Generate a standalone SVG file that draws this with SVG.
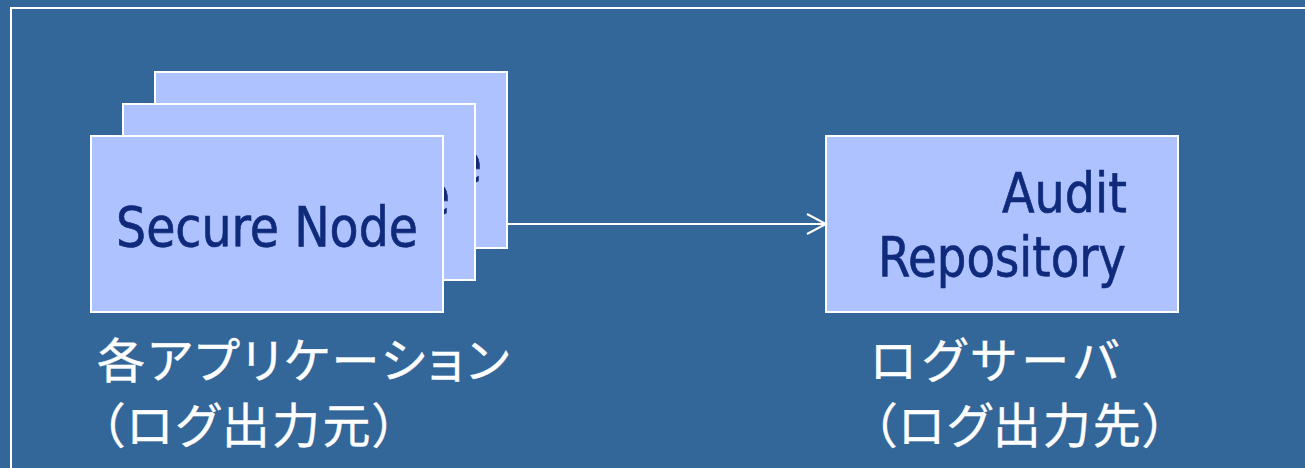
<svg xmlns="http://www.w3.org/2000/svg" width="1305" height="468" viewBox="0 0 1305 468">
<style>
.node{fill:#adc2fe;stroke:#ffffff;stroke-width:2}
.nl{font-family:"DejaVu Sans Condensed","DejaVu Sans","Liberation Sans",sans-serif;font-size:55px;fill:#0f2a7b;stroke:#0f2a7b;stroke-width:0.6}
.jp{font-family:"Noto Sans CJK JP",sans-serif;font-size:48px;fill:#ffffff;stroke:#ffffff;stroke-width:0.4;font-feature-settings:"palt"}
.conn{stroke:#ffffff;stroke-width:2;fill:none}
</style>
<rect width="1305" height="468" fill="#336699"/>
<rect x="11" y="8" width="1310" height="480" fill="none" stroke="#ffffff" stroke-width="2"/>
<g id="node-back">
<rect class="node" x="155" y="72" width="352" height="176"/>
<text class="nl" x="180" y="182" textLength="302" lengthAdjust="spacingAndGlyphs">Secure Node</text>
</g>
<g id="node-middle">
<rect class="node" x="123" y="104" width="352" height="176"/>
<text class="nl" x="148" y="214" textLength="302" lengthAdjust="spacingAndGlyphs">Secure Node</text>
</g>
<g id="node-front">
<rect class="node" x="91" y="136" width="352" height="176"/>
<text class="nl" x="116" y="246" textLength="302" lengthAdjust="spacingAndGlyphs">Secure Node</text>
</g>
<g id="node-audit">
<rect class="node" x="826" y="136" width="352" height="176"/>
<text class="nl" x="1002" y="212" textLength="125" lengthAdjust="spacingAndGlyphs">Audit</text>
<text class="nl" x="878" y="276" textLength="248" lengthAdjust="spacingAndGlyphs">Repository</text>
</g>
<g id="connectors">
<path class="conn" d="M507,224 L824,224"/>
<path class="conn" d="M807,214 L826,224 L807,234"/>
</g>
<g id="label-app">
<text class="jp" x="97" y="378" textLength="412" lengthAdjust="spacing">各アプリケーション</text>
<text class="jp" x="100" y="443" textLength="297" lengthAdjust="spacing">（ログ出力元）</text>
</g>
<g id="label-server">
<text class="jp" x="870" y="378" textLength="249" lengthAdjust="spacing">ログサーバ</text>
<text class="jp" x="872" y="443" textLength="295" lengthAdjust="spacing">（ログ出力先）</text>
</g>
</svg>
